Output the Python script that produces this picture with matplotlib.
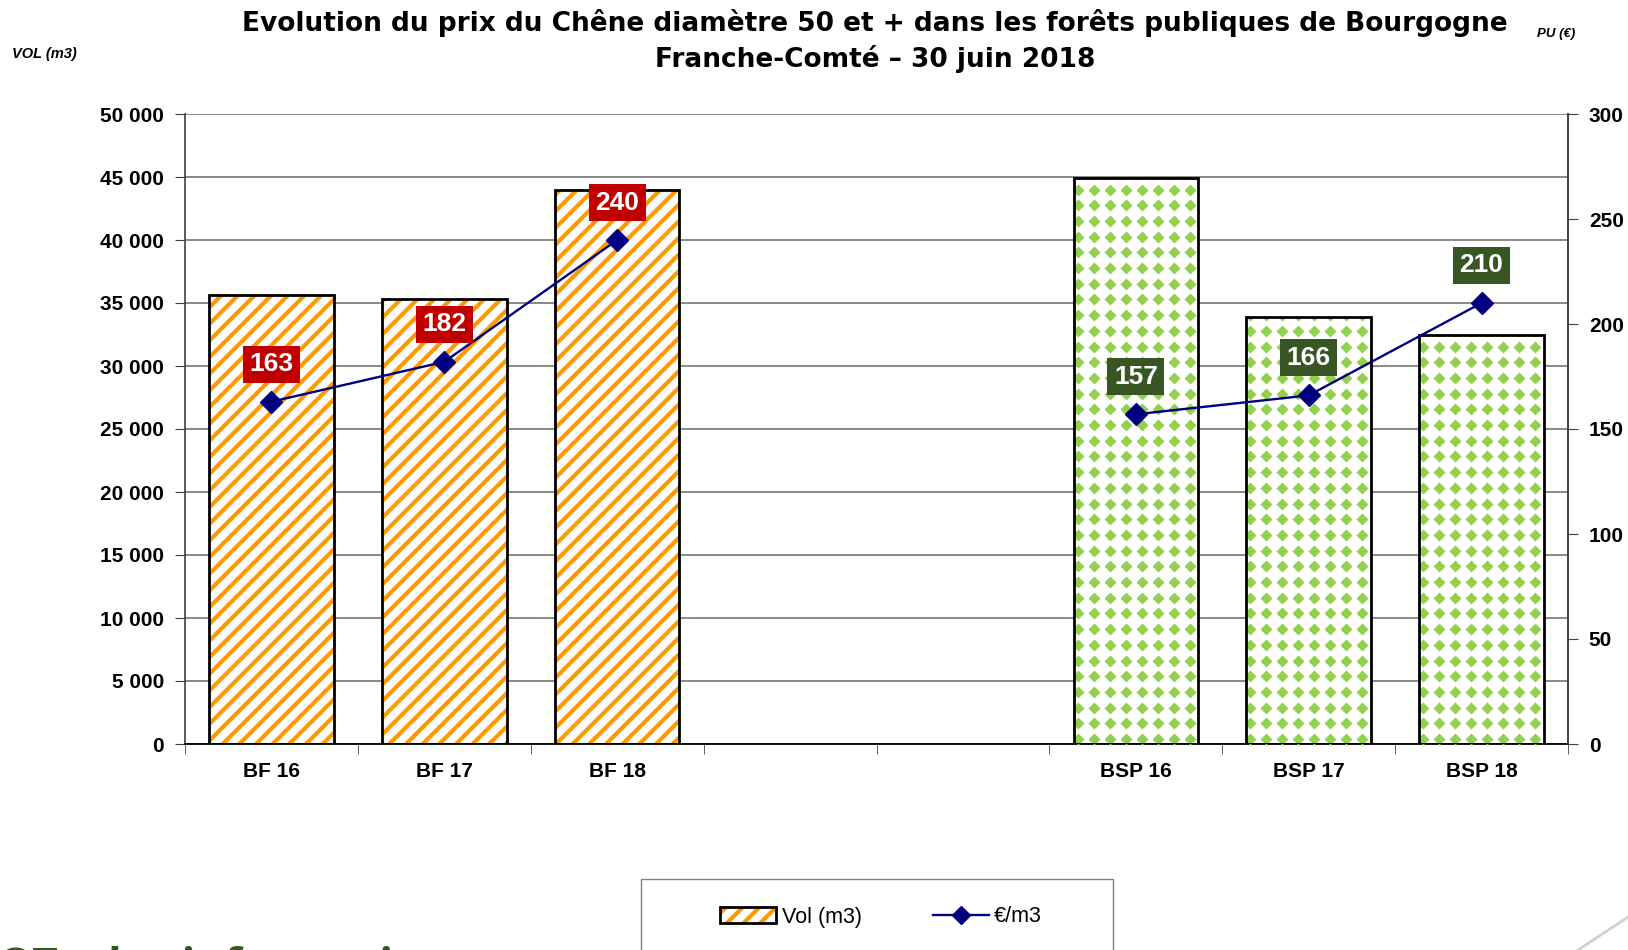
import numpy as np
import matplotlib
matplotlib.use('Agg')
import matplotlib.pyplot as plt
from matplotlib.patches import Patch, Rectangle
from matplotlib.lines import Line2D

# données
categories = ['BF 16', 'BF 17', 'BF 18', '', '', 'BSP 16', 'BSP 17', 'BSP 18']
groupes = ['BF', 'BF', 'BF', '', '', 'BSP', 'BSP', 'BSP']
volumes = [35600, 35300, 44000, np.nan, np.nan, 44900, 33900, 32500]
prix = [163, 182, 240, np.nan, np.nan, 157, 166, 210]
vol_ticks = list(range(0, 50001, 5000))
prix_ticks = list(range(0, 301, 50))

titre1 = 'Evolution du prix du Chêne diamètre 50 et + dans les forêts publiques de Bourgogne'
titre2 = 'Franche-Comté \u2013 30 juin 2018'

orange = '#FF9900'
vert = '#92D050'
couleur_label = {'BF': '#C00000', 'BSP': '#375623'}

plt.rcParams['font.family'] = ['Liberation Sans', 'DejaVu Sans']
plt.rcParams['hatch.linewidth'] = 3.0

W, H = 1628, 950
fig = plt.figure(figsize=(W / 100, H / 100), dpi=100)
ax = fig.add_axes([185 / W, 206 / H, 1383 / W, 630 / H])
ax2 = ax.twinx()

x = np.arange(len(categories))
ax.set_xlim(-0.5, len(categories) - 0.5)
ax.set_ylim(0, 50000)
ax2.set_ylim(0, 300)

largeur = 0.72
for i, (v, g) in enumerate(zip(volumes, groupes)):
    if np.isnan(v):
        continue
    if g == 'BF':
        ax.bar(i, v, width=largeur, color='white', edgecolor=orange, hatch='//',
               linewidth=0.1, zorder=2)
    else:
        b = ax.bar(i, v, width=largeur, color='white', linewidth=0, zorder=2)[0]
        # motif de losanges verts
        tr = ax.transData
        px0, py0 = tr.transform((i - largeur / 2, 0))
        px1, py1 = tr.transform((i + largeur / 2, v))
        gx = np.arange(px0 + 4, px1 + 8, 16.0)
        gy = np.arange(py0 + 5, py1 + 8, 15.7)
        GX, GY = np.meshgrid(gx, gy)
        pts = tr.inverted().transform(np.column_stack([GX.ravel(), GY.ravel()]))
        ln, = ax.plot(pts[:, 0], pts[:, 1], ls='none', marker='D', ms=6.3,
                      color=vert, mec='none', zorder=3)
        ln.set_clip_path(b)
    ax.bar(i, v, width=largeur, fill=False, edgecolor='black', linewidth=2, zorder=4)

# courbe des prix
ax2.plot(x, prix, color='#000080', lw=1.7, marker='D', ms=11, zorder=5)
for i, (p, g) in enumerate(zip(prix, groupes)):
    if np.isnan(p):
        continue
    ax2.annotate(str(int(p)), xy=(i, p), xytext=(0, 27), textcoords='offset points',
                 ha='center', va='center', color='white', fontsize=19, fontweight='bold',
                 bbox=dict(boxstyle='square,pad=0.25', fc=couleur_label[g], ec='none'),
                 zorder=6)

# axes
ax.set_yticks(vol_ticks)
ax.set_yticklabels([f'{v:,}'.replace(',', ' ') for v in vol_ticks])
ax.set_xticks(x)
ax.set_xticklabels(categories)
ax.set_xticks(np.arange(-0.5, len(categories), 1), minor=True)
ax.tick_params(axis='x', which='major', length=0, pad=13, labelsize=15)
ax.tick_params(axis='x', which='minor', length=7, direction='out', color='#404040')
ax.tick_params(axis='y', length=7, direction='out', color='#404040', pad=8, labelsize=15)
ax.yaxis.grid(True, color='#808080', lw=1.3)
ax.set_axisbelow(True)
for lab in ax.get_xticklabels() + ax.get_yticklabels():
    lab.set_fontweight('bold')

ax2.set_yticks(prix_ticks)
ax2.tick_params(axis='y', length=7, direction='out', color='#404040', pad=8, labelsize=15)
for lab in ax2.get_yticklabels():
    lab.set_fontweight('bold')

ax.spines['top'].set_visible(False)
ax.spines['right'].set_visible(False)
ax.spines['left'].set_color('#404040')
ax.spines['left'].set_linewidth(1.2)
ax.spines['bottom'].set_color('black')
ax.spines['bottom'].set_linewidth(1.3)
for s in ['top', 'left', 'bottom']:
    ax2.spines[s].set_visible(False)
ax2.spines['right'].set_color('#404040')
ax2.spines['right'].set_linewidth(1.4)

# titres
fig.text(875 / W, 1 - 23 / H, titre1, ha='center', va='center', fontsize=19,
         fontweight='bold', family='DejaVu Sans')
fig.text(875 / W, 1 - 59 / H, titre2, ha='center', va='center', fontsize=19,
         fontweight='bold', family='DejaVu Sans')
fig.text(12 / W, 1 - 54 / H, 'VOL (m3)', ha='left', va='center', fontsize=10.5,
         fontweight='bold', style='italic')
fig.text(1537 / W, 1 - 34 / H, 'PU (€)', ha='left', va='center', fontsize=9.5,
         fontweight='bold', style='italic')

# légende
fig.add_artist(Rectangle((641 / W, -0.03), (1113 - 641) / W, 0.03 + 1 - 879 / H,
                         transform=fig.transFigure, fill=False, edgecolor='#808080', lw=1))
h_vol = (Patch(facecolor='white', edgecolor=orange, hatch='//', lw=0.1),
         Patch(fill=False, edgecolor='black', lw=2))
h_prix = Line2D([], [], color='#000080', lw=1.7, marker='D', ms=9)
fig.legend(handles=[h_vol, h_prix], labels=['Vol (m3)', '€/m3'], loc='center',
           bbox_to_anchor=(881 / W, 1 - 917 / H), ncol=2, frameon=False, fontsize=15.5,
           handlelength=2.6, handletextpad=0.25, columnspacing=3.3)

# éléments de la diapositive, coupés en bas
fig.text(-2 / W, 1 - 980 / H, 'OT : des informations', ha='left', va='baseline',
         fontsize=32, fontweight='bold', color='#375623', family='Open Sans')
fig.add_artist(Line2D([1628 / W, 1578 / W], [1 - 917 / H, 0], transform=fig.transFigure,
                      color='#D0D0D0', lw=2))

fig.savefig('out.png', dpi=100)
